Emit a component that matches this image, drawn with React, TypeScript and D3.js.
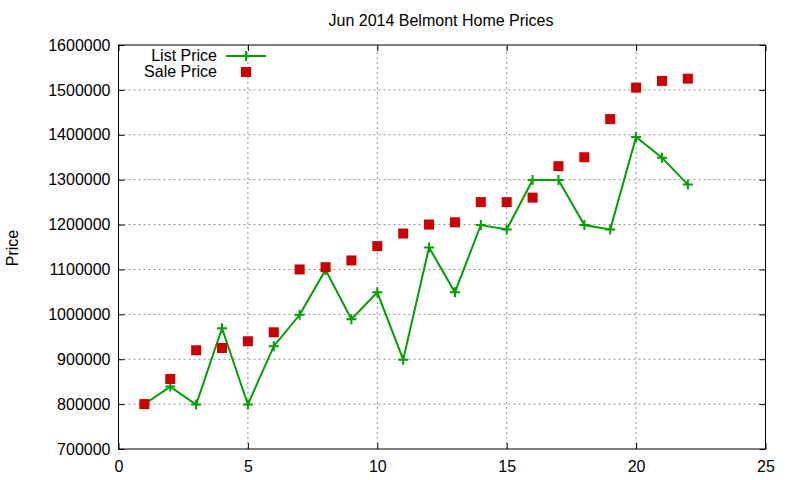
import React, { useEffect, useRef } from "react";
import * as d3 from "d3";

const days = [1, 2, 3, 4, 5, 6, 7, 8, 9, 10, 11, 12, 13, 14, 15, 16, 17, 18, 19, 20, 21, 22];
const listPrice = [
  800000, 839000, 799000, 969000, 799000, 929000, 999000, 1099000, 989000, 1049000, 899000,
  1149000, 1049000, 1199000, 1189000, 1299000, 1299000, 1199000, 1189000, 1395000, 1349000, 1289000,
];
const salePrice = [
  800000, 856000, 920000, 925000, 940000, 960000, 1100000, 1105000, 1120000, 1152000, 1180000,
  1200000, 1205000, 1250000, 1250000, 1260000, 1330000, 1350000, 1435000, 1505000, 1520000, 1525000,
];
const xTicks = [0, 5, 10, 15, 20, 25];
const yTicks = [700000, 800000, 900000, 1000000, 1100000, 1200000, 1300000, 1400000, 1500000, 1600000];

const GREEN = "#00a000";
const RED = "#cc0000";
const FONT = "'Liberation Sans', Arial, sans-serif";

export default function App() {
  const svgRef = useRef<SVGSVGElement>(null);

  useEffect(() => {
    document.body.style.margin = "0";
    const svg = d3.select(svgRef.current);
    svg.selectAll("*").remove();

    const width = 800;
    const height = 480;
    const margin = { top: 45, right: 34.5, bottom: 31, left: 118.5 };

    const x = d3.scaleLinear().domain([0, 25]).range([margin.left, width - margin.right]);
    const y = d3.scaleLinear().domain([700000, 1600000]).range([height - margin.bottom, margin.top]);

    svg.append("rect").attr("width", width).attr("height", height).attr("fill", "#fff");

    // grid
    const grid = svg.append("g").attr("stroke", "#909090").attr("stroke-width", 1).attr("stroke-dasharray", "2,3");
    xTicks.slice(1, -1).forEach((t) => {
      grid.append("line").attr("x1", x(t)).attr("x2", x(t)).attr("y1", y.range()[0]).attr("y2", y.range()[1]);
    });
    yTicks.slice(1, -1).forEach((t) => {
      grid.append("line").attr("x1", x.range()[0]).attr("x2", x.range()[1]).attr("y1", y(t)).attr("y2", y(t));
    });

    // axes with mirrored ticks
    const tickLen = 6;
    const axisStyle = (g) => {
      g.select(".domain").remove();
      g.selectAll("line").attr("stroke", "#000");
      g.selectAll("text").attr("font-family", FONT).attr("font-size", 16).attr("fill", "#000");
    };
    svg.append("g")
      .attr("transform", `translate(0,${y.range()[0]})`)
      .call(d3.axisBottom(x).tickValues(xTicks).tickSize(-tickLen).tickPadding(12).tickFormat(d3.format("d")))
      .call(axisStyle);
    svg.append("g")
      .attr("transform", `translate(0,${y.range()[1]})`)
      .call(d3.axisTop(x).tickValues(xTicks).tickSize(-tickLen).tickFormat(() => ""))
      .call(axisStyle);
    svg.append("g")
      .attr("transform", `translate(${x.range()[0]},0)`)
      .call(d3.axisLeft(y).tickValues(yTicks).tickSize(-tickLen).tickPadding(8).tickFormat(d3.format("d")))
      .call(axisStyle);
    svg.append("g")
      .attr("transform", `translate(${x.range()[1]},0)`)
      .call(d3.axisRight(y).tickValues(yTicks).tickSize(-tickLen).tickFormat(() => ""))
      .call(axisStyle);

    svg.append("rect")
      .attr("x", x.range()[0])
      .attr("y", y.range()[1])
      .attr("width", x.range()[1] - x.range()[0])
      .attr("height", y.range()[0] - y.range()[1])
      .attr("fill", "none")
      .attr("stroke", "#000")
      .attr("stroke-width", 1);

    // list price line
    const line = d3.line<number>().x((_, i) => x(days[i])).y((d) => y(d));
    svg.append("path").datum(listPrice).attr("d", line).attr("fill", "none").attr("stroke", GREEN).attr("stroke-width", 2);

    const plus = (g, cx, cy) => {
      g.append("path")
        .attr("d", `M${cx - 5},${cy}H${cx + 5}M${cx},${cy - 5}V${cy + 5}`)
        .attr("stroke", GREEN)
        .attr("stroke-width", 2)
        .attr("fill", "none");
    };
    const plusG = svg.append("g");
    listPrice.forEach((d, i) => plus(plusG, x(days[i]), y(d)));

    // sale price squares
    svg.append("g")
      .selectAll("rect")
      .data(salePrice)
      .join("rect")
      .attr("x", (_, i) => x(days[i]) - 5)
      .attr("y", (d) => y(d) - 5)
      .attr("width", 10)
      .attr("height", 10)
      .attr("fill", RED);

    // legend
    const legend = svg.append("g").attr("font-family", FONT).attr("font-size", 16);
    legend.append("text").attr("x", 217).attr("y", 61).attr("text-anchor", "end").text("List Price");
    legend.append("line").attr("x1", 226).attr("x2", 266).attr("y1", 56).attr("y2", 56).attr("stroke", GREEN).attr("stroke-width", 2);
    plus(legend, 246, 56);
    legend.append("text").attr("x", 217).attr("y", 77).attr("text-anchor", "end").text("Sale Price");
    legend.append("rect").attr("x", 241).attr("y", 67).attr("width", 10).attr("height", 10).attr("fill", RED);

    // title and axis label
    svg.append("text")
      .attr("x", 441)
      .attr("y", 26)
      .attr("text-anchor", "middle")
      .attr("font-family", FONT)
      .attr("font-size", 16)
      .text("Jun 2014 Belmont Home Prices");
    svg.append("text")
      .attr("transform", "translate(18,248) rotate(-90)")
      .attr("text-anchor", "middle")
      .attr("font-family", FONT)
      .attr("font-size", 16)
      .text("Price");
  }, []);

  return <svg ref={svgRef} width={800} height={480} style={{ display: "block" }} />;
}
